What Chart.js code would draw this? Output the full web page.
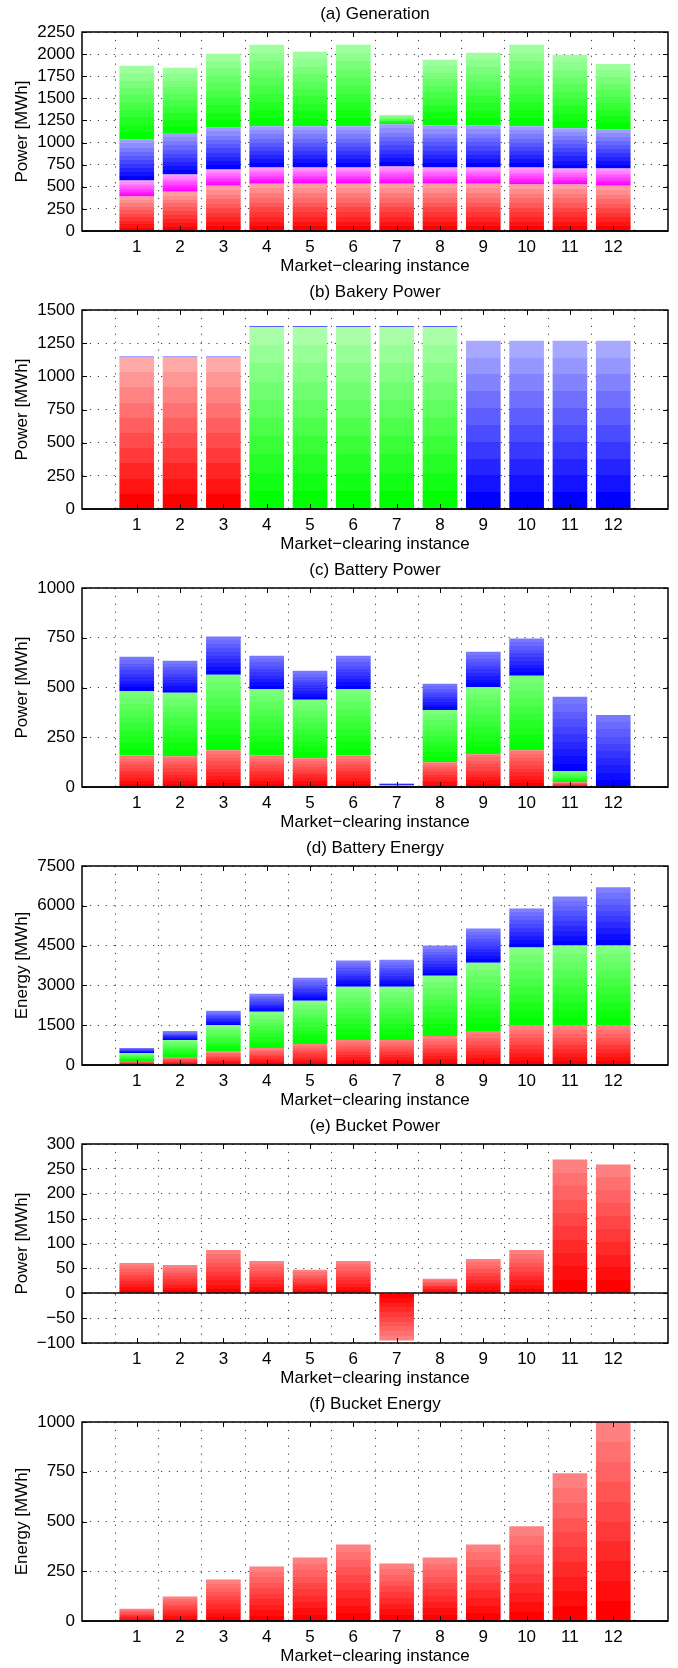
<!DOCTYPE html>
<html>
<head>
<meta charset="utf-8">
<script src="https://cdn.jsdelivr.net/npm/chart.js@4.4.1/dist/chart.umd.min.js"></script>
<style>
  body { margin: 0; background: #fff; width: 678px; height: 1668px; position: relative; overflow: hidden; }
  .panel { position: absolute; left: 0; width: 678px; height: 278px; }
</style>
</head>
<body>
<div class="panel" style="top:0px"><canvas id="chtGeneration" width="678" height="278"></canvas></div>
<div class="panel" style="top:278px"><canvas id="chtBakery" width="678" height="278"></canvas></div>
<div class="panel" style="top:556px"><canvas id="chtBatteryPower" width="678" height="278"></canvas></div>
<div class="panel" style="top:834px"><canvas id="chtBatteryEnergy" width="678" height="278"></canvas></div>
<div class="panel" style="top:1112px"><canvas id="chtBucketPower" width="678" height="278"></canvas></div>
<div class="panel" style="top:1390px"><canvas id="chtBucketEnergy" width="678" height="278"></canvas></div>
<script>
'use strict';

// market-clearing instances
const instances = [1, 2, 3, 4, 5, 6, 7, 8, 9, 10, 11, 12];

// (a) generation, stacked bottom -> top
const genRed = [390, 445, 512, 535, 535, 535, 535, 535, 535, 525, 525, 512];
const genMagenta = [180, 195, 183, 183, 183, 183, 195, 183, 183, 193, 181, 194];
const genBlue = [467, 467, 478, 467, 467, 467, 478, 478, 478, 467, 455, 444];
const genGreen = [830, 740, 831, 921, 842, 921, 103, 740, 819, 921, 831, 739];

// (b) bakery power
const bakeryRed = [1145, 1145, 1145, 0, 0, 0, 0, 0, 0, 0, 0, 0];
const bakeryGreen = [0, 0, 0, 1372, 1372, 1372, 1372, 1372, 0, 0, 0, 0];
const bakeryBlue = [6, 6, 6, 7, 7, 7, 7, 7, 1268, 1268, 1268, 1268];

// (c) battery power
const battPowRed = [158, 155, 185, 158, 145, 158, 4, 125, 165, 185, 24, 0];
const battPowGreen = [325, 318, 379, 335, 293, 335, 6, 262, 338, 374, 55, 0];
const battPowBlue = [172, 162, 192, 167, 146, 167, 8, 132, 177, 187, 374, 362];

// (d) battery energy
const battEnRed = [150, 300, 500, 645, 795, 945, 945, 1095, 1285, 1475, 1475, 1475];
const battEnGreen = [305, 645, 1010, 1360, 1625, 2005, 2005, 2270, 2570, 2950, 3025, 3025];
const battEnBlue = [190, 340, 530, 680, 870, 985, 1020, 1135, 1285, 1475, 1855, 2195];

// (e) bucket power, (f) bucket energy
const bucketPower = [61, 57, 87, 65, 47, 65, -95, 29, 69, 87, 269, 259];
const bucketEnergy = [62, 123, 208, 274, 319, 385, 289, 319, 385, 476, 743, 1000];

const FONT = "'Liberation Sans', Arial, Helvetica, sans-serif";
const BANDS = 10;
const GRID_COLOR = 'rgba(0,0,0,0.75)';
const GRID_DASH = [1.2, 6.7];

Chart.defaults.font.family = FONT;
Chart.defaults.font.size = 17;
Chart.defaults.color = '#000';

function mixWhite(hex, t) {
    var r = parseInt(hex.substr(1, 2), 16), g = parseInt(hex.substr(3, 2), 16), b = parseInt(hex.substr(5, 2), 16);
    r = Math.round(r + (255 - r) * t);
    g = Math.round(g + (255 - g) * t);
    b = Math.round(b + (255 - b) * t);
    return `rgb(${r},${g},${b})`;
}

// banded shading: saturated at the base of a segment, lighter toward its tip
function banded(base, fade) {
    return (c) => {
        var chart = c.chart;
        var y = chart.scales.y;
        if (c.type !== 'data' || !y) return base;
        var i = c.dataIndex;
        var start = 0;
        for (var k = 0; k < c.datasetIndex; k++) start += chart.data.datasets[k].data[i];
        var end = start + chart.data.datasets[c.datasetIndex].data[i];
        var p0 = y.getPixelForValue(start), p1 = y.getPixelForValue(end);
        if (!isFinite(p0) || !isFinite(p1) || Math.abs(p1 - p0) < 0.5) return base;
        var grad = chart.ctx.createLinearGradient(0, p0, 0, p1);
        for (var b = 0; b < BANDS; b++) {
            var col = mixWhite(base, fade * b / (BANDS - 1));
            grad.addColorStop(b / BANDS, col);
            grad.addColorStop((b + 1) / BANDS, col);
        }
        return grad;
    };
}

const framePlugin = {
    id: 'frame',
    afterDatasetsDraw(chart) {
        var ctx = chart.ctx, a = chart.chartArea, x = chart.scales.x, y = chart.scales.y;
        ctx.save();
        ctx.strokeStyle = '#000';
        ctx.lineWidth = 1;
        ctx.beginPath();
        x.ticks.forEach((t) => {
            var px = Math.round(x.getPixelForValue(t.value)) + 0.5;
            ctx.moveTo(px, a.top); ctx.lineTo(px, a.top + 5);
            ctx.moveTo(px, a.bottom); ctx.lineTo(px, a.bottom - 5);
        });
        y.ticks.forEach((t) => {
            var py = Math.round(y.getPixelForValue(t.value)) + 0.5;
            ctx.moveTo(a.left, py); ctx.lineTo(a.left + 5, py);
            ctx.moveTo(a.right, py); ctx.lineTo(a.right - 5, py);
        });
        ctx.stroke();
        // bar baseline
        var y0 = Math.round(y.getPixelForValue(0));
        ctx.lineWidth = 1.5;
        ctx.beginPath();
        ctx.moveTo(a.left, y0); ctx.lineTo(a.right, y0);
        ctx.stroke();
        ctx.strokeRect(a.left, a.top, a.right - a.left, a.bottom - a.top);
        ctx.restore();
    }
};

function makePanel(canvasID, title, yTitle, yMin, yMax, yStep, series, fade) {
    return new Chart(document.getElementById(canvasID), {
        type: 'bar',
        data: {
            labels: instances,
            datasets: series.map((s) => ({
                data: s.values,
                backgroundColor: banded(s.color, fade),
                borderWidth: 0,
                barPercentage: 0.8,
                categoryPercentage: 1
            }))
        },
        plugins: [framePlugin],
        options: {
            responsive: false,
            animation: false,
            events: [],
            layout: { padding: { left: 0, right: 10, top: 0, bottom: 0 } },
            plugins: {
                legend: { display: false },
                tooltip: { enabled: false },
                title: {
                    display: true,
                    text: title,
                    fullSize: false,
                    color: '#000',
                    font: { size: 17, weight: 'normal' },
                    padding: { top: 3.8, bottom: 7.8 }
                }
            },
            scales: {
                x: {
                    type: 'linear',
                    min: 0.3,
                    max: 12.7,
                    stacked: true,
                    afterBuildTicks: (scale) => { scale.ticks = instances.map((v) => ({ value: v })); },
                    afterFit: (scale) => { scale.height = 47; },
                    grid: { color: GRID_COLOR, lineWidth: 1, drawTicks: false, borderDash: GRID_DASH },
                    border: { display: false, dash: GRID_DASH },
                    ticks: { padding: 6, autoSkip: false, maxRotation: 0, color: '#000', font: { size: 17 } },
                    title: {
                        display: true,
                        text: 'Market\u2212clearing instance',
                        color: '#000',
                        font: { size: 17 },
                        padding: { top: 0, bottom: 1.5 }
                    }
                },
                y: {
                    min: yMin,
                    max: yMax,
                    stacked: true,
                    afterFit: (scale) => { scale.width = 82; },
                    grid: { color: GRID_COLOR, lineWidth: 1, drawTicks: false, borderDash: GRID_DASH },
                    border: { display: false, dash: GRID_DASH },
                    ticks: {
                        stepSize: yStep,
                        autoSkip: false,
                        maxTicksLimit: 20,
                        padding: 7,
                        color: '#000',
                        font: { size: 17 },
                        callback: (v) => String(v).replace('-', '\u2212')
                    },
                    title: {
                        display: true,
                        text: yTitle,
                        color: '#000',
                        font: { size: 17 },
                        padding: { top: 12, bottom: 0 }
                    }
                }
            }
        }
    });
}

makePanel('chtGeneration', '(a) Generation', 'Power [MWh]', 0, 2250, 250, [
    { values: genRed, color: '#ff0000' },
    { values: genMagenta, color: '#ff00ff' },
    { values: genBlue, color: '#0000ff' },
    { values: genGreen, color: '#00ff00' }
], 0.62);

makePanel('chtBakery', '(b) Bakery Power', 'Power [MWh]', 0, 1500, 250, [
    { values: bakeryRed, color: '#ff0000' },
    { values: bakeryGreen, color: '#00ff00' },
    { values: bakeryBlue, color: '#0000ff' }
], 0.66);

makePanel('chtBatteryPower', '(c) Battery Power', 'Power [MWh]', 0, 1000, 250, [
    { values: battPowRed, color: '#ff0000' },
    { values: battPowGreen, color: '#00ff00' },
    { values: battPowBlue, color: '#0000ff' }
], 0.47);

makePanel('chtBatteryEnergy', '(d) Battery Energy', 'Energy [MWh]', 0, 7500, 1500, [
    { values: battEnRed, color: '#ff0000' },
    { values: battEnGreen, color: '#00ff00' },
    { values: battEnBlue, color: '#0000ff' }
], 0.5);

makePanel('chtBucketPower', '(e) Bucket Power', 'Power [MWh]', -100, 300, 50, [
    { values: bucketPower, color: '#ff0000' }
], 0.5);

makePanel('chtBucketEnergy', '(f) Bucket Energy', 'Energy [MWh]', 0, 1000, 250, [
    { values: bucketEnergy, color: '#ff0000' }
], 0.5);
</script>
</body>
</html>
